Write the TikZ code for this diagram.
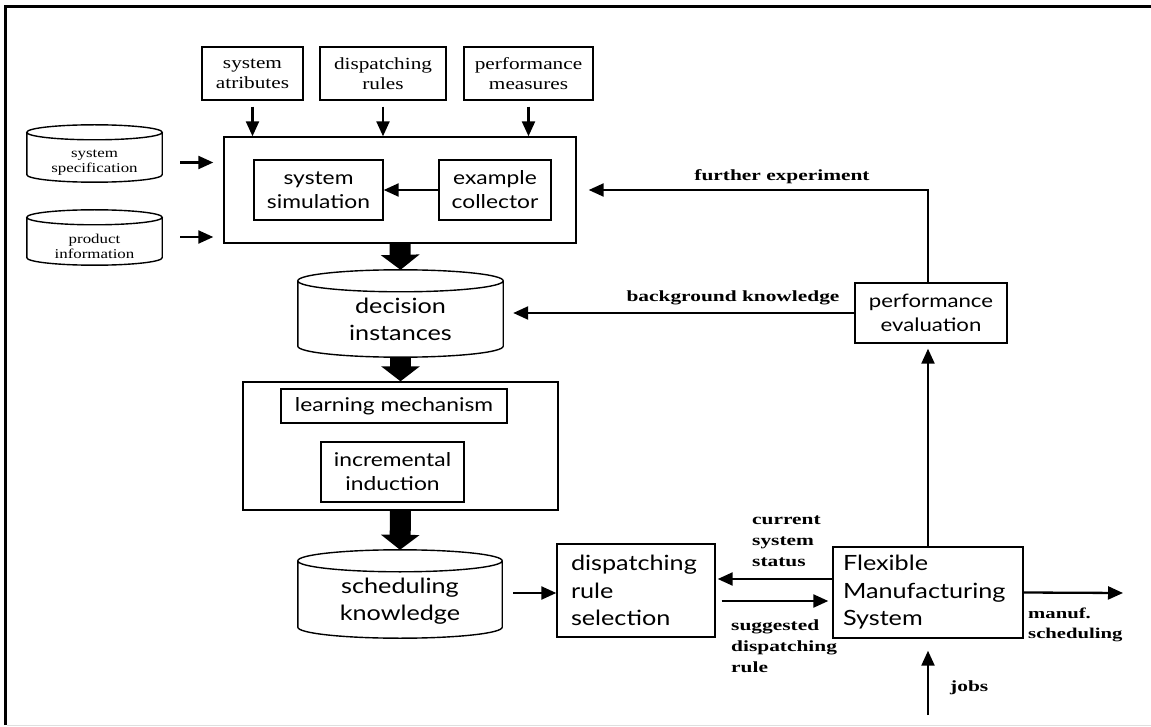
\documentclass[tikz,border=0pt]{standalone}
\usepackage{fontspec}
\setmainfont{Liberation Serif}
\newfontfamily\serifw{Liberation Serif}[FakeStretch=1.25]
\newfontfamily\lblw{Liberation Serif}[FakeStretch=1.38]
\newfontfamily\sansw{Lato}[FakeStretch=1.2]
\usetikzlibrary{arrows.meta,calc}
% #1 node, #2 y-radius of the ellipses, #3 how far the lid sits above the node
\newcommand{\drawcyl}[3]{%
  \draw[cylline] let \p1=(#1.north west), \p2=(#1.south east), \n1={(\x2-\x1)/2} in
    (\x1,\y1+#3-#2) -- (\x1,\y2+#2) arc[start angle=180,end angle=360,x radius=\n1,y radius=#2] -- (\x2,\y1+#3-#2)
    (\x1+\n1,\y1+#3-#2) ellipse[x radius=\n1,y radius=#2];}
\tikzset{
  box/.style={draw, line width=1.4pt, inner sep=0pt, align=center},
  topbox/.style={box, font=\serifw\fontsize{17}{20}\selectfont, minimum height=53pt},
  midbox/.style={box, font=\sansw\fontsize{19}{24}\selectfont},
  bigbox/.style={box, font=\sansw\fontsize{21}{27.5}\selectfont},
  cylline/.style={line width=1.4pt},
  smallcyl/.style={inner sep=0pt, align=center, font=\serifw\fontsize{13.5}{15.5}\selectfont},
  bigcyl/.style={inner sep=0pt, align=center, font=\sansw\fontsize{21}{27.5}\selectfont},
  lbl/.style={inner sep=0pt, font=\lblw\bfseries\fontsize{15.5}{21}\selectfont},
  arr/.style={line width=2.3pt, -{Triangle[length=15pt,width=13pt]}},
  fat/.style={line width=21pt, -{Triangle[length=15pt,width=38pt]}}
}
\begin{document}
\begin{tikzpicture}[x=1pt,y=1pt]
\useasboundingbox (0,0) rectangle (1151,-727);
\draw[line width=3pt] (5.5,-725) -- (5.5,-7) -- (1151,-7);
\draw[gray!25, line width=1pt] (7,-725.5) -- (1151,-725.5);

% top inputs
\node[topbox, minimum width=101pt] (sa) at (252.5,-73.5) {system\\atributes};
\node[topbox, minimum width=126pt] (dr) at (383,-73.5) {dispatching\\rules};
\node[topbox, minimum width=129pt] (pm) at (528.5,-73.5) {performance\\measures};

% simulation block
\node[box, minimum width=352pt, minimum height=106pt] (sim) at (400,-190) {};
\node[midbox, minimum width=129pt, minimum height=60pt] (ss) at (318.5,-190) {system\\simulation};
\node[midbox, minimum width=112pt, minimum height=60pt] (ec) at (495,-190) {example\\collector};

% left data stores
\node[smallcyl, minimum width=135pt, minimum height=39pt] (spec) at (94.5,-162.5) {system\\specification};
\node[smallcyl, minimum width=135pt, minimum height=37pt] (prod) at (94.5,-246.5) {product\\information};
\drawcyl{spec}{7.5pt}{18pt}
\drawcyl{prod}{7.5pt}{18pt}

% centre column
\node[bigcyl, minimum width=205pt, minimum height=75pt] (di) at (400.5,-319.5) {decision\\instances};
\drawcyl{di}{11pt}{12pt}
\node[box, minimum width=315pt, minimum height=128pt] (lb) at (400.5,-446) {};
\node[midbox, minimum width=226pt, minimum height=34pt] (lm) at (394,-406) {learning mechanism};
\node[midbox, minimum width=143pt, minimum height=60pt] (ii) at (392.5,-472) {incremental\\induction};
\node[bigcyl, minimum width=204pt, minimum height=74pt] (sk) at (400,-601) {scheduling\\knowledge};
\drawcyl{sk}{11pt}{14pt}

% right side
\node[bigbox, minimum height=93pt, align=left, inner xsep=14pt, text width=130pt] (drs) at (636,-590.5) {dispatching\\rule\\selection};
\node[bigbox, minimum height=91pt, align=left, inner xsep=10pt, text width=170pt] (fms) at (928,-592.5) {Flexible\\Manufacturing\\System};
\node[box, font=\sansw\fontsize{18.5}{24}\selectfont, minimum width=152pt, minimum height=60pt] (pe) at (931,-313) {performance\\evaluation};

\coordinate (out) at (1123,-593);
\coordinate (jobsin) at (928,-715);

% arrows
\draw[arr, shorten <=6pt] (sa.south) -- (sa.south |- sim.north);
\draw[arr, shorten <=6pt] (dr.south) -- (dr.south |- sim.north);
\draw[arr, shorten <=6pt] (pm.south) -- (pm.south |- sim.north);
\draw[arr, shorten <=18pt, shorten >=10pt] (spec.east) -- (spec.east -| sim.west);
\draw[arr, shorten <=18pt, shorten >=10pt] ([yshift=9.5pt]prod.east) -- ([yshift=9.5pt]prod.east -| sim.west);
\draw[arr] (ec.west) -- (ss.east);
\draw[fat] (sim.south) -- ([yshift=12pt]di.north);
\draw[fat] (di.south) -- (lb.north);
\draw[fat] (lb.south) -- ([yshift=14pt]sk.north);
\draw[arr, shorten <=11pt] ([yshift=-2.5pt]drs.west -| sk.east) -- ([yshift=-2.5pt]drs.west);
\draw[arr, shorten >=2pt] ([yshift=13.5pt]fms.west) -- ([yshift=13.5pt]fms.west -| drs.east);
\draw[arr, shorten <=6pt, shorten >=4pt] ([yshift=-8.5pt]fms.west -| drs.east) -- ([yshift=-8.5pt]fms.west);
\draw[arr] (fms.east) -- (out);
\draw[arr, shorten >=12pt] (jobsin) -- (fms.south);
\draw[arr, shorten >=5pt] (fms.north) -- (fms.north |- pe.south);
\draw[arr, shorten >=12pt] (pe.north -| fms.north) |- (sim.east);
\draw[arr, shorten >=10pt] (pe.west) -- (pe.west -| di.east);

% labels
\node[lbl] (lfe) at (782,-177) {further experiment};
\node[lbl] (lbk) at (733,-298) {background knowledge};
\node[lbl, anchor=west, align=left] (lcs) at (752,-541.5) {current\\system\\status};
\node[lbl, anchor=west, align=left] (lsd) at (731,-646.5) {suggested\\dispatching\\rule};
\node[lbl, anchor=west, align=left, font=\lblw\bfseries\fontsize{15}{20}\selectfont] (lms) at (1028,-625) {manuf.\\scheduling};
\node[lbl, anchor=west] (ljb) at (950,-688) {jobs};
\end{tikzpicture}
\end{document}
